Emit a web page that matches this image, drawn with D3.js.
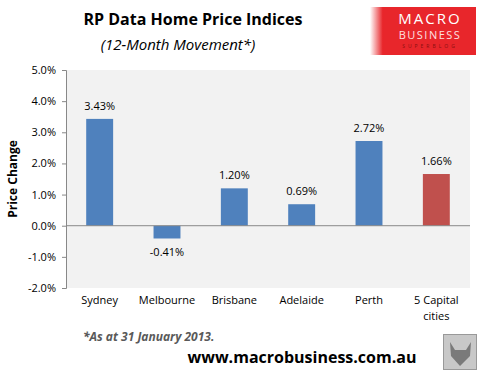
<!DOCTYPE html>
<html><head><meta charset="utf-8">
<script src="https://cdn.jsdelivr.net/npm/d3@7"></script>
<style>body{margin:0;background:#fff}svg{display:block}</style>
</head><body>
<script>
const categories = ["Sydney","Melbourne","Brisbane","Adelaide","Perth","5 Capital cities"];
const values = [3.43,-0.41,1.20,0.69,2.72,1.66];
const barColors = ["#4f81bd","#4f81bd","#4f81bd","#4f81bd","#4f81bd","#c0504d"];
const yTicks = [-2,-1,0,1,2,3,4,5];

const W=483,H=379;
const svg=d3.select("body").append("svg").attr("width",W).attr("height",H);
const font="'Open Sans', 'Liberation Sans', sans-serif";
const m={left:66,right:470,top:70,bottom:288};

svg.append("rect").attr("x",m.left).attr("y",m.top).attr("width",m.right-m.left).attr("height",m.bottom-m.top).attr("fill","#f2f2f2");

const x=d3.scaleBand().domain(categories).range([m.left,m.right]).paddingInner(0.6).paddingOuter(0.3);
const y=d3.scaleLinear().domain([-2,5]).range([m.bottom,m.top]);

const yAxis=svg.append("g").attr("transform",`translate(${m.left},0)`)
  .call(d3.axisLeft(y).tickValues(yTicks).tickFormat(d=>d.toFixed(1)+"%").tickSize(4).tickPadding(6));
yAxis.select(".domain").attr("stroke","#888");
yAxis.selectAll(".tick line").attr("stroke","#888");
yAxis.selectAll("text").attr("font-family",font).attr("font-size",11).attr("fill","#000");

svg.selectAll(".bar").data(categories).enter().append("rect")
  .attr("x",d=>x(d)).attr("width",x.bandwidth())
  .attr("y",(d,i)=>y(Math.max(0,values[i])))
  .attr("height",(d,i)=>Math.abs(y(values[i])-y(0)))
  .attr("fill",(d,i)=>barColors[i]);

svg.append("line").attr("x1",m.left).attr("x2",m.right).attr("y1",y(0)).attr("y2",y(0)).attr("stroke","#888");

svg.selectAll(".vl").data(categories).enter().append("text")
  .attr("x",d=>x(d)+x.bandwidth()/2)
  .attr("y",(d,i)=>values[i]>=0?y(values[i])-9:y(values[i])+18)
  .attr("text-anchor","middle").attr("font-family",font).attr("font-size",11)
  .text((d,i)=>values[i].toFixed(2)+"%");

const cl=svg.selectAll(".cl").data(categories).enter().append("text")
  .attr("x",d=>x(d)+x.bandwidth()/2).attr("y",304)
  .attr("text-anchor","middle").attr("font-family",font).attr("font-size",11);
cl.each(function(d){
  const parts=d==="5 Capital cities"?["5 Capital","cities"]:[d];
  const t=d3.select(this);
  parts.forEach((p,i)=>t.append("tspan").attr("x",t.attr("x")).attr("dy",i?16:0).text(p));
});

svg.append("text").attr("transform","translate(17,179) rotate(-90)").attr("text-anchor","middle")
  .attr("font-family",font).attr("font-size",12).attr("font-weight","bold").text("Price Change");

svg.append("text").attr("x",193).attr("y",25).attr("text-anchor","middle").attr("font-family",font)
  .attr("font-size",16).attr("font-weight","bold").text("RP Data Home Price Indices");
svg.append("text").attr("x",178).attr("y",50).attr("text-anchor","middle").attr("font-family",font)
  .attr("font-size",15).attr("font-style","italic").text("(12-Month Movement*)");

svg.append("text").attr("x",83).attr("y",341).attr("font-family",font).attr("font-size",12)
  .attr("font-style","italic").attr("font-weight","bold").attr("fill","#595959").text("*As at 31 January 2013.");
svg.append("text").attr("x",302).attr("y",363).attr("text-anchor","middle").attr("font-family",font).attr("font-size",16)
  .attr("font-weight","bold").text("www.macrobusiness.com.au");

// logo
const defs=svg.append("defs");
const g=defs.append("linearGradient").attr("id","lg").attr("x1","0").attr("x2","1");
g.append("stop").attr("offset","0").attr("stop-color","#ffffff");
g.append("stop").attr("offset","0.12").attr("stop-color","#e8262b");
g.append("stop").attr("offset","1").attr("stop-color","#e8262b");
svg.append("rect").attr("x",370).attr("y",7).attr("width",106).attr("height",48).attr("fill","url(#lg)");
svg.append("text").attr("x",430).attr("y",24).attr("text-anchor","middle").attr("font-family",font).attr("font-size",15)
  .attr("fill","#fff").attr("letter-spacing",2).text("MACRO");
svg.append("text").attr("x",430).attr("y",39).attr("text-anchor","middle").attr("font-family",font).attr("font-size",11)
  .attr("fill","#fde0e0").attr("letter-spacing",1.5).text("BUSINESS");
svg.append("text").attr("x",430).attr("y",48).attr("text-anchor","middle").attr("font-family",font).attr("font-size",5)
  .attr("fill","#8a1010").attr("letter-spacing",3).text("SUPERBLOG");

// wolf image placeholder
svg.append("rect").attr("x",443.5).attr("y",334.5).attr("width",33).attr("height",35).attr("fill","#c8c8c8").attr("stroke","#999");
svg.append("path").attr("d","M450,342 L455,350 L466,350 L471,342 L470,356 L460,366 L451,356 Z").attr("fill","#7a7a7a");
</script>
</body></html>
